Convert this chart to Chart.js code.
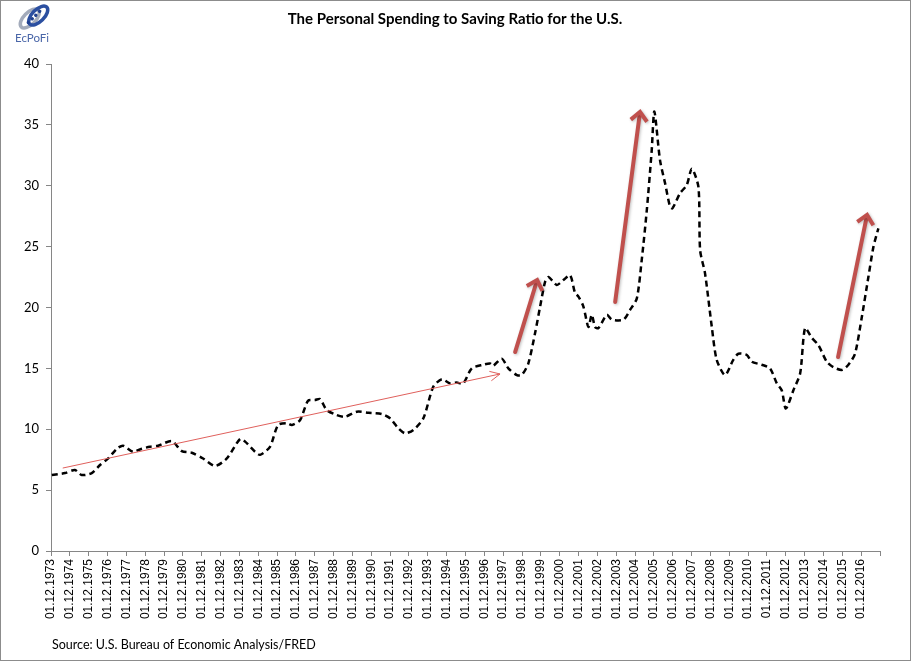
<!DOCTYPE html>
<html>
<head>
<meta charset="utf-8">
<script src="https://cdn.jsdelivr.net/npm/chart.js@4.4.1/dist/chart.umd.min.js"></script>
<style>
  html, body { margin: 0; padding: 0; background: #fff; }
  #wrap { width: 911px; height: 661px; position: relative; }
</style>
</head>
<body>
<div id="wrap"><canvas id="ratioChart" width="911" height="661"></canvas></div>
<script>
// Datas (ano decimal, 01.12.AAAA = AAAA + 11/12) e razão gasto/poupança
const dates = [
  1973.96, 1974.66, 1975.19, 1975.55, 1976.08, 1976.52, 1976.95, 1977.41, 1977.74, 1978.27,
  1978.73, 1979.17, 1979.60, 1980.33, 1980.86, 1981.39, 1981.99, 1982.62, 1983.25, 1983.95,
  1984.22, 1984.75, 1985.01, 1985.54, 1985.97, 1986.43, 1986.70, 1987.14, 1987.56, 1987.93,
  1988.20, 1988.55, 1989.08, 1989.53, 1990.15, 1990.76, 1991.47, 1991.91, 1992.35, 1992.71,
  1993.15, 1993.68, 1994.21, 1994.66, 1995.10, 1995.45, 1995.80, 1996.25, 1996.87, 1997.22,
  1997.38, 1997.84, 1998.19, 1998.64, 1998.90, 1999.25, 1999.61, 1999.88, 2000.14, 2000.32,
  2000.76, 2001.11, 2001.47, 2001.73, 2001.91, 2002.17, 2002.44, 2002.62, 2002.79, 2002.97,
  2003.42, 2003.68, 2004.30, 2004.65, 2005.01, 2005.27, 2005.54, 2005.80, 2005.94, 2006.24,
  2006.51, 2006.77, 2006.90, 2007.31, 2007.66, 2007.93, 2008.28, 2008.37, 2008.63, 2008.99,
  2009.25, 2009.69, 2010.13, 2010.40, 2010.85, 2011.11, 2011.64, 2012.08, 2012.44, 2012.70,
  2012.92, 2013.32, 2013.68, 2013.94, 2014.30, 2014.65, 2015.09, 2015.44, 2015.89, 2016.24,
  2016.59, 2016.95, 2017.30, 2017.57, 2017.83
];
const ratio = [
  6.24, 6.40, 6.65, 6.24, 6.40, 7.06, 7.60, 8.40, 8.65, 8.15,
  8.40, 8.56, 8.65, 9.03, 8.20, 8.07, 7.60, 6.98, 7.60, 9.20,
  8.98, 8.15, 7.90, 8.56, 10.35, 10.50, 10.35, 10.76, 12.35, 12.40,
  12.48, 11.58, 11.17, 11.03, 11.44, 11.36, 11.25, 10.90, 10.08, 9.67,
  9.94, 10.90, 13.50, 14.10, 13.77, 13.83, 13.77, 15.00, 15.30, 15.40,
  15.20, 15.80, 15.00, 14.45, 14.45, 15.40, 17.90, 20.10, 22.10, 22.50,
  21.85, 22.25, 22.65, 21.20, 20.90, 20.10, 18.40, 19.40, 18.40, 18.30,
  19.40, 19.00, 19.00, 19.80, 20.75, 23.90, 28.00, 32.90, 36.10, 32.10,
  30.20, 28.30, 28.15, 29.40, 30.06, 31.40, 29.90, 24.70, 22.80, 18.40,
  15.70, 14.45, 15.70, 16.20, 16.10, 15.55, 15.30, 15.00, 13.77, 13.20,
  11.70, 13.20, 14.60, 18.30, 17.50, 16.90, 15.55, 15.10, 14.87, 15.30,
  16.20, 19.20, 22.50, 25.00, 26.50
];
const tickLabels = [
  '01.12.1973', '01.12.1974', '01.12.1975', '01.12.1976', '01.12.1977', '01.12.1978',
  '01.12.1979', '01.12.1980', '01.12.1981', '01.12.1982', '01.12.1983', '01.12.1984',
  '01.12.1985', '01.12.1986', '01.12.1987', '01.12.1988', '01.12.1989', '01.12.1990',
  '01.12.1991', '01.12.1992', '01.12.1993', '01.12.1994', '01.12.1995', '01.12.1996',
  '01.12.1997', '01.12.1998', '01.12.1999', '01.12.2000', '01.12.2001', '01.12.2002',
  '01.12.2003', '01.12.2004', '01.12.2005', '01.12.2006', '01.12.2007', '01.12.2008',
  '01.12.2009', '01.12.2010', '01.12.2011', '01.12.2012', '01.12.2013', '01.12.2014',
  '01.12.2015', '01.12.2016'
];
// Setas de tendência: [ano, valor] da base e da ponta
const trendArrow = [[1974.56, 6.82], [1997.75, 14.54]];
const boldArrows = [
  [[1998.55, 16.34], [1999.72, 22.26]],
  [[2003.86, 20.45], [2005.18, 36.06]],
  [[2015.69, 15.93], [2017.23, 27.60]]
];

const firstTick = 1973 + 11 / 12;
const axisColor = '#868686';

function drawArrow(ctx, x1, y1, x2, y2, width, color, headLen, headAngle) {
  const ang = Math.atan2(y2 - y1, x2 - x1);
  ctx.save();
  ctx.strokeStyle = color;
  ctx.lineWidth = width;
  ctx.lineCap = 'round';
  ctx.lineJoin = 'miter';
  ctx.beginPath();
  ctx.moveTo(x1, y1);
  ctx.lineTo(x2 - Math.cos(ang) * width * 0.6, y2 - Math.sin(ang) * width * 0.6);
  ctx.stroke();
  ctx.lineCap = 'butt';
  ctx.beginPath();
  ctx.moveTo(x2 - headLen * Math.cos(ang - headAngle), y2 - headLen * Math.sin(ang - headAngle));
  ctx.lineTo(x2, y2);
  ctx.lineTo(x2 - headLen * Math.cos(ang + headAngle), y2 - headLen * Math.sin(ang + headAngle));
  ctx.stroke();
  ctx.restore();
}

const decorPlugin = {
  id: 'decor',
  beforeDraw(chart) {
    const ctx = chart.ctx;
    ctx.save();
    ctx.fillStyle = '#fff';
    ctx.fillRect(0, 0, chart.width, chart.height);
    ctx.restore();
  },
  afterDatasetsDraw(chart) {
    const ctx = chart.ctx;
    const xs = chart.scales.x, ys = chart.scales.y;
    const px = p => [xs.getPixelForValue(p[0]), ys.getPixelForValue(p[1])];

    // seta fina
    const a = px(trendArrow[0]), b = px(trendArrow[1]);
    drawArrow(ctx, a[0], a[1], b[0], b[1], 1, '#e0605c', 11, 0.45);

    // setas grossas
    boldArrows.forEach(arr => {
      const s = px(arr[0]), e = px(arr[1]);
      ctx.save();
      ctx.shadowColor = 'rgba(0,0,0,0.25)';
      ctx.shadowBlur = 3;
      ctx.shadowOffsetX = 1;
      ctx.shadowOffsetY = 1;
      drawArrow(ctx, s[0], s[1], e[0], e[1], 4, '#c0504d', 12, 0.75);
      ctx.restore();
    });
  },
  afterDraw(chart) {
    const ctx = chart.ctx;
    ctx.save();
    // título
    ctx.fillStyle = '#000';
    ctx.font = 'bold 15px Lato, "Open Sans", sans-serif';
    ctx.textAlign = 'center';
    ctx.textBaseline = 'middle';
    ctx.fillText('The Personal Spending to Saving Ratio for the U.S.', 455, 19);

    // fonte
    ctx.font = '12.5px Lato, "Open Sans", sans-serif';
    ctx.textAlign = 'left';
    ctx.fillText('Source: U.S. Bureau of Economic Analysis/FRED', 52, 645);

    // logo
    ctx.translate(34, 17);
    ctx.rotate(-Math.PI / 4);
    ctx.lineWidth = 3.5;
    ctx.strokeStyle = '#a3abbb';
    ctx.beginPath(); ctx.ellipse(-4, -2, 12, 6, 0, 0, Math.PI * 2); ctx.stroke();
    ctx.strokeStyle = '#2b4fa0';
    ctx.beginPath(); ctx.ellipse(4, 2, 12, 6, 0, 0, Math.PI * 2); ctx.stroke();
    ctx.fillStyle = '#1f3f8f';
    [[-8, 0], [-2.5, 0], [2.5, 0], [8, 0]].forEach(d => { ctx.beginPath(); ctx.arc(d[0], d[1], 1.7, 0, Math.PI * 2); ctx.fill(); });
    ctx.setTransform(1, 0, 0, 1, 0, 0);
    ctx.fillStyle = '#4a66a8';
    ctx.font = '11.5px Lato, "Open Sans", sans-serif';
    ctx.textAlign = 'center';
    ctx.fillText('EcPoFi', 32, 38);

    // moldura
    ctx.strokeStyle = '#8c8c8c';
    ctx.lineWidth = 1;
    ctx.strokeRect(0.5, 0.5, chart.width - 1, chart.height - 1);
    ctx.restore();
  }
};

new Chart(document.getElementById('ratioChart').getContext('2d'), {
  type: 'line',
  data: {
    datasets: [{
      label: 'Spending/Saving',
      data: dates.map((d, i) => ({ x: d, y: ratio[i] })),
      borderColor: '#000',
      borderWidth: 2.5,
      borderDash: [6, 4],
      pointRadius: 0,
      tension: 0.25,
      fill: false
    }]
  },
  options: {
    responsive: false,
    animation: false,
    layout: { padding: { left: 0, top: 64, right: 31, bottom: 0 } },
    plugins: { legend: { display: false }, title: { display: false }, tooltip: { enabled: false } },
    scales: {
      x: {
        type: 'linear',
        min: firstTick,
        max: firstTick + 44,
        afterBuildTicks: axis => {
          axis.ticks = tickLabels.map((_, i) => ({ value: firstTick + i })).concat([{ value: firstTick + 44 }]);
        },
        afterFit: s => { s.height = 110; },
        border: { color: axisColor, width: 1 },
        grid: { drawOnChartArea: false, drawTicks: true, tickLength: 5, color: axisColor },
        ticks: {
          autoSkip: false,
          minRotation: 90,
          maxRotation: 90,
          padding: 3,
          color: '#000',
          font: { family: '"Liberation Sans", Arial, sans-serif', size: 12 },
          callback: (v, i) => tickLabels[i] || ''
        }
      },
      y: {
        min: 0,
        max: 40,
        afterFit: s => { s.width = 51; },
        border: { color: axisColor, width: 1 },
        grid: { drawOnChartArea: false, drawTicks: true, tickLength: 5, color: axisColor },
        ticks: {
          stepSize: 5,
          padding: 7,
          color: '#000',
          font: { family: 'Lato, "Open Sans", sans-serif', size: 13 }
        }
      }
    }
  },
  plugins: [decorPlugin]
});
</script>
</body>
</html>
